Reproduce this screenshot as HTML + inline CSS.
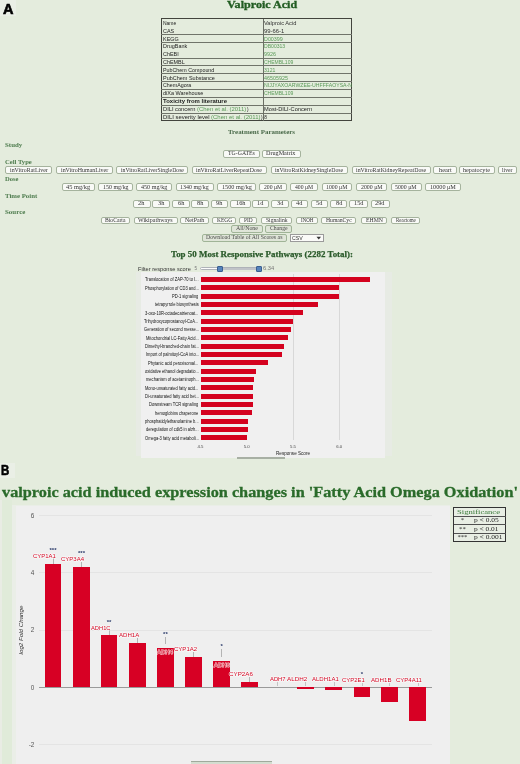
<!DOCTYPE html>
<html><head><meta charset="utf-8"><style>
html,body{margin:0;padding:0}
body{width:520px;height:764px;overflow:hidden;position:relative;background:#e4ecdd;font-family:'Liberation Sans', sans-serif}
.t{position:absolute;white-space:nowrap;transform-origin:0 0}
</style></head><body>
<div style="position:absolute;left:0.00px;top:0.00px;width:15.50px;height:16.00px;background:#eaefe6"></div>
<div style="position:absolute;left:0.00px;top:463.30px;width:15.00px;height:14.70px;background:#eaefe6"></div>
<div style="position:absolute;left:160.70px;top:17.80px;width:191.60px;height:103.70px;border:1.8px solid #42443d;box-sizing:border-box"></div>
<div style="position:absolute;left:161.00px;top:33.90px;width:191.00px;height:1.20px;background:#70746a"></div>
<div style="position:absolute;left:161.00px;top:41.70px;width:191.00px;height:1.20px;background:#70746a"></div>
<div style="position:absolute;left:161.00px;top:57.50px;width:191.00px;height:1.20px;background:#70746a"></div>
<div style="position:absolute;left:161.00px;top:65.10px;width:191.00px;height:1.20px;background:#70746a"></div>
<div style="position:absolute;left:161.00px;top:73.10px;width:191.00px;height:1.20px;background:#70746a"></div>
<div style="position:absolute;left:161.00px;top:80.60px;width:191.00px;height:1.20px;background:#70746a"></div>
<div style="position:absolute;left:161.00px;top:88.80px;width:191.00px;height:1.20px;background:#70746a"></div>
<div style="position:absolute;left:161.00px;top:96.70px;width:191.00px;height:1.20px;background:#70746a"></div>
<div style="position:absolute;left:161.00px;top:104.70px;width:191.00px;height:1.20px;background:#70746a"></div>
<div style="position:absolute;left:161.00px;top:112.60px;width:191.00px;height:1.20px;background:#70746a"></div>
<div style="position:absolute;left:262.90px;top:18.50px;width:1.40px;height:102.30px;background:#6a6e64"></div>
<div style="position:absolute;left:223.30px;top:149.70px;width:36.30px;height:7.90px;background:#f9faf7;border:1px solid #a5b39d;border-radius:2px;box-sizing:border-box"></div>
<div style="position:absolute;left:261.70px;top:149.70px;width:38.90px;height:7.90px;background:#f9faf7;border:1px solid #a5b39d;border-radius:2px;box-sizing:border-box"></div>
<div style="position:absolute;left:5.20px;top:165.90px;width:47.30px;height:8.50px;background:#f9faf7;border:1px solid #a5b39d;border-radius:2px;box-sizing:border-box"></div>
<div style="position:absolute;left:56.30px;top:165.90px;width:56.70px;height:8.50px;background:#f9faf7;border:1px solid #a5b39d;border-radius:2px;box-sizing:border-box"></div>
<div style="position:absolute;left:116.00px;top:165.90px;width:72.40px;height:8.50px;background:#f9faf7;border:1px solid #a5b39d;border-radius:2px;box-sizing:border-box"></div>
<div style="position:absolute;left:191.70px;top:165.90px;width:75.30px;height:8.50px;background:#f9faf7;border:1px solid #a5b39d;border-radius:2px;box-sizing:border-box"></div>
<div style="position:absolute;left:270.50px;top:165.90px;width:77.70px;height:8.50px;background:#f9faf7;border:1px solid #a5b39d;border-radius:2px;box-sizing:border-box"></div>
<div style="position:absolute;left:351.50px;top:165.90px;width:79.70px;height:8.50px;background:#f9faf7;border:1px solid #a5b39d;border-radius:2px;box-sizing:border-box"></div>
<div style="position:absolute;left:433.30px;top:165.90px;width:23.50px;height:8.50px;background:#f9faf7;border:1px solid #a5b39d;border-radius:2px;box-sizing:border-box"></div>
<div style="position:absolute;left:458.50px;top:165.90px;width:36.40px;height:8.50px;background:#f9faf7;border:1px solid #a5b39d;border-radius:2px;box-sizing:border-box"></div>
<div style="position:absolute;left:497.50px;top:165.90px;width:19.90px;height:8.50px;background:#f9faf7;border:1px solid #a5b39d;border-radius:2px;box-sizing:border-box"></div>
<div style="position:absolute;left:61.70px;top:183.20px;width:33.70px;height:7.90px;background:#f9faf7;border:1px solid #a5b39d;border-radius:2px;box-sizing:border-box"></div>
<div style="position:absolute;left:98.10px;top:183.20px;width:35.10px;height:7.90px;background:#f9faf7;border:1px solid #a5b39d;border-radius:2px;box-sizing:border-box"></div>
<div style="position:absolute;left:136.40px;top:183.20px;width:35.80px;height:7.90px;background:#f9faf7;border:1px solid #a5b39d;border-radius:2px;box-sizing:border-box"></div>
<div style="position:absolute;left:175.50px;top:183.20px;width:38.20px;height:7.90px;background:#f9faf7;border:1px solid #a5b39d;border-radius:2px;box-sizing:border-box"></div>
<div style="position:absolute;left:216.80px;top:183.20px;width:39.40px;height:7.90px;background:#f9faf7;border:1px solid #a5b39d;border-radius:2px;box-sizing:border-box"></div>
<div style="position:absolute;left:259.20px;top:183.20px;width:27.60px;height:7.90px;background:#f9faf7;border:1px solid #a5b39d;border-radius:2px;box-sizing:border-box"></div>
<div style="position:absolute;left:290.00px;top:183.20px;width:27.60px;height:7.90px;background:#f9faf7;border:1px solid #a5b39d;border-radius:2px;box-sizing:border-box"></div>
<div style="position:absolute;left:321.70px;top:183.20px;width:30.80px;height:7.90px;background:#f9faf7;border:1px solid #a5b39d;border-radius:2px;box-sizing:border-box"></div>
<div style="position:absolute;left:356.00px;top:183.20px;width:31.00px;height:7.90px;background:#f9faf7;border:1px solid #a5b39d;border-radius:2px;box-sizing:border-box"></div>
<div style="position:absolute;left:390.60px;top:183.20px;width:31.00px;height:7.90px;background:#f9faf7;border:1px solid #a5b39d;border-radius:2px;box-sizing:border-box"></div>
<div style="position:absolute;left:425.40px;top:183.20px;width:35.40px;height:7.90px;background:#f9faf7;border:1px solid #a5b39d;border-radius:2px;box-sizing:border-box"></div>
<div style="position:absolute;left:132.50px;top:199.90px;width:18.00px;height:7.80px;background:#f9faf7;border:1px solid #a5b39d;border-radius:2px;box-sizing:border-box"></div>
<div style="position:absolute;left:152.00px;top:199.90px;width:18.00px;height:7.80px;background:#f9faf7;border:1px solid #a5b39d;border-radius:2px;box-sizing:border-box"></div>
<div style="position:absolute;left:171.80px;top:199.90px;width:17.80px;height:7.80px;background:#f9faf7;border:1px solid #a5b39d;border-radius:2px;box-sizing:border-box"></div>
<div style="position:absolute;left:191.30px;top:199.90px;width:17.50px;height:7.80px;background:#f9faf7;border:1px solid #a5b39d;border-radius:2px;box-sizing:border-box"></div>
<div style="position:absolute;left:210.80px;top:199.90px;width:17.50px;height:7.80px;background:#f9faf7;border:1px solid #a5b39d;border-radius:2px;box-sizing:border-box"></div>
<div style="position:absolute;left:230.00px;top:199.90px;width:21.30px;height:7.80px;background:#f9faf7;border:1px solid #a5b39d;border-radius:2px;box-sizing:border-box"></div>
<div style="position:absolute;left:251.70px;top:199.90px;width:17.60px;height:7.80px;background:#f9faf7;border:1px solid #a5b39d;border-radius:2px;box-sizing:border-box"></div>
<div style="position:absolute;left:271.40px;top:199.90px;width:17.50px;height:7.80px;background:#f9faf7;border:1px solid #a5b39d;border-radius:2px;box-sizing:border-box"></div>
<div style="position:absolute;left:290.80px;top:199.90px;width:17.50px;height:7.80px;background:#f9faf7;border:1px solid #a5b39d;border-radius:2px;box-sizing:border-box"></div>
<div style="position:absolute;left:311.00px;top:199.90px;width:17.00px;height:7.80px;background:#f9faf7;border:1px solid #a5b39d;border-radius:2px;box-sizing:border-box"></div>
<div style="position:absolute;left:330.20px;top:199.90px;width:17.20px;height:7.80px;background:#f9faf7;border:1px solid #a5b39d;border-radius:2px;box-sizing:border-box"></div>
<div style="position:absolute;left:348.80px;top:199.90px;width:19.00px;height:7.80px;background:#f9faf7;border:1px solid #a5b39d;border-radius:2px;box-sizing:border-box"></div>
<div style="position:absolute;left:370.50px;top:199.90px;width:19.50px;height:7.80px;background:#f9faf7;border:1px solid #a5b39d;border-radius:2px;box-sizing:border-box"></div>
<div style="position:absolute;left:100.50px;top:216.50px;width:29.90px;height:7.80px;background:#f9faf7;border:1px solid #a5b39d;border-radius:2px;box-sizing:border-box"></div>
<div style="position:absolute;left:133.50px;top:216.50px;width:44.00px;height:7.80px;background:#f9faf7;border:1px solid #a5b39d;border-radius:2px;box-sizing:border-box"></div>
<div style="position:absolute;left:180.00px;top:216.50px;width:28.80px;height:7.80px;background:#f9faf7;border:1px solid #a5b39d;border-radius:2px;box-sizing:border-box"></div>
<div style="position:absolute;left:211.90px;top:216.50px;width:24.60px;height:7.80px;background:#f9faf7;border:1px solid #a5b39d;border-radius:2px;box-sizing:border-box"></div>
<div style="position:absolute;left:239.30px;top:216.50px;width:18.10px;height:7.80px;background:#f9faf7;border:1px solid #a5b39d;border-radius:2px;box-sizing:border-box"></div>
<div style="position:absolute;left:261.00px;top:216.50px;width:31.00px;height:7.80px;background:#f9faf7;border:1px solid #a5b39d;border-radius:2px;box-sizing:border-box"></div>
<div style="position:absolute;left:295.80px;top:216.50px;width:21.90px;height:7.80px;background:#f9faf7;border:1px solid #a5b39d;border-radius:2px;box-sizing:border-box"></div>
<div style="position:absolute;left:321.30px;top:216.50px;width:35.20px;height:7.80px;background:#f9faf7;border:1px solid #a5b39d;border-radius:2px;box-sizing:border-box"></div>
<div style="position:absolute;left:360.80px;top:216.50px;width:26.50px;height:7.80px;background:#f9faf7;border:1px solid #a5b39d;border-radius:2px;box-sizing:border-box"></div>
<div style="position:absolute;left:390.80px;top:216.50px;width:29.20px;height:7.80px;background:#f9faf7;border:1px solid #a5b39d;border-radius:2px;box-sizing:border-box"></div>
<div style="position:absolute;left:231.30px;top:225.00px;width:31.40px;height:7.80px;background:#dfe5d8;border:1px solid #a0b497;border-radius:2px;box-sizing:border-box"></div>
<div style="position:absolute;left:264.90px;top:225.00px;width:27.10px;height:7.80px;background:#dfe5d8;border:1px solid #a0b497;border-radius:2px;box-sizing:border-box"></div>
<div style="position:absolute;left:201.50px;top:234.20px;width:85.90px;height:7.60px;background:#dfe5d8;border:1px solid #a0b497;border-radius:2px;box-sizing:border-box"></div>
<div style="position:absolute;left:289.80px;top:234.20px;width:33.80px;height:7.80px;background:#fafaf8;border:1px solid #9a9a9a;box-sizing:border-box"></div>
<svg style="position:absolute;left:316px;top:236px" width="6" height="4"><path d="M0.5 0.8 L5 0.8 L2.75 3.5Z" fill="#333"/></svg>
<div style="position:absolute;left:199.50px;top:267.30px;width:61.50px;height:3.20px;background:#fcfcfc;border:0.7px solid #aeb2b8;border-radius:1.5px;box-sizing:border-box"></div>
<div style="position:absolute;left:220.00px;top:267.60px;width:39.00px;height:2.60px;background:#c0c3c8"></div>
<div style="position:absolute;left:217.40px;top:265.80px;width:5.60px;height:5.90px;background:#5583bb;border:0.7px solid #3a5f90;border-radius:1px;box-sizing:border-box"></div>
<div style="position:absolute;left:255.80px;top:265.80px;width:5.80px;height:5.90px;background:#5583bb;border:0.7px solid #3a5f90;border-radius:1px;box-sizing:border-box"></div>
<div style="position:absolute;left:136.00px;top:271.50px;width:256.00px;height:184.50px;background:#e7ebe4"></div>
<div style="position:absolute;left:141.00px;top:271.50px;width:243.50px;height:186.50px;background:#f0f0f0"></div>
<div style="position:absolute;left:292.60px;top:274.00px;width:0.80px;height:166.00px;background:#d8d8d8"></div>
<div style="position:absolute;left:338.85px;top:274.00px;width:0.80px;height:166.00px;background:#d8d8d8"></div>
<div style="position:absolute;left:200.50px;top:277.00px;width:169.50px;height:5.00px;background:#d4021f"></div>
<div style="position:absolute;left:200.50px;top:285.33px;width:138.50px;height:5.00px;background:#d4021f"></div>
<div style="position:absolute;left:200.50px;top:293.66px;width:138.00px;height:5.00px;background:#d4021f"></div>
<div style="position:absolute;left:200.50px;top:301.99px;width:117.50px;height:5.00px;background:#d4021f"></div>
<div style="position:absolute;left:200.50px;top:310.32px;width:102.00px;height:5.00px;background:#d4021f"></div>
<div style="position:absolute;left:200.50px;top:318.65px;width:92.50px;height:5.00px;background:#d4021f"></div>
<div style="position:absolute;left:200.50px;top:326.98px;width:90.70px;height:5.00px;background:#d4021f"></div>
<div style="position:absolute;left:200.50px;top:335.31px;width:87.00px;height:5.00px;background:#d4021f"></div>
<div style="position:absolute;left:200.50px;top:343.64px;width:83.30px;height:5.00px;background:#d4021f"></div>
<div style="position:absolute;left:200.50px;top:351.97px;width:81.50px;height:5.00px;background:#d4021f"></div>
<div style="position:absolute;left:200.50px;top:360.30px;width:67.00px;height:5.00px;background:#d4021f"></div>
<div style="position:absolute;left:200.50px;top:368.63px;width:55.70px;height:5.00px;background:#d4021f"></div>
<div style="position:absolute;left:200.50px;top:376.96px;width:53.30px;height:5.00px;background:#d4021f"></div>
<div style="position:absolute;left:200.50px;top:385.29px;width:52.50px;height:5.00px;background:#d4021f"></div>
<div style="position:absolute;left:200.50px;top:393.62px;width:52.00px;height:5.00px;background:#d4021f"></div>
<div style="position:absolute;left:200.50px;top:401.95px;width:52.00px;height:5.00px;background:#d4021f"></div>
<div style="position:absolute;left:200.50px;top:410.28px;width:51.50px;height:5.00px;background:#d4021f"></div>
<div style="position:absolute;left:200.50px;top:418.61px;width:47.70px;height:5.00px;background:#d4021f"></div>
<div style="position:absolute;left:200.50px;top:426.94px;width:47.00px;height:5.00px;background:#d4021f"></div>
<div style="position:absolute;left:200.50px;top:435.27px;width:46.30px;height:5.00px;background:#d4021f"></div>
<div style="position:absolute;left:237.40px;top:457.20px;width:48.00px;height:1.40px;background:#a8b0a4"></div>
<div style="position:absolute;left:0.00px;top:500.00px;width:1.50px;height:264.00px;background:#e9ece4"></div>
<div style="position:absolute;left:1.50px;top:500.00px;width:10.50px;height:264.00px;background:#e0ebd9"></div>
<div style="position:absolute;left:12.00px;top:504.50px;width:438.20px;height:259.50px;background:#eaeee7"></div>
<div style="position:absolute;left:15.50px;top:505.50px;width:434.70px;height:258.50px;background:#efefef"></div>
<div style="position:absolute;left:38.75px;top:514.90px;width:393.25px;height:1.00px;background:#e4e4e4"></div>
<div style="position:absolute;left:38.75px;top:572.20px;width:393.25px;height:1.00px;background:#e4e4e4"></div>
<div style="position:absolute;left:38.75px;top:629.50px;width:393.25px;height:1.00px;background:#e4e4e4"></div>
<div style="position:absolute;left:38.75px;top:744.10px;width:393.25px;height:1.00px;background:#e4e4e4"></div>
<div style="position:absolute;left:38.75px;top:686.80px;width:393.55px;height:1.20px;background:#9a9a9a"></div>
<div style="position:absolute;left:44.60px;top:564.11px;width:16.80px;height:123.19px;background:#d70024"></div>
<div style="position:absolute;left:52.70px;top:558.30px;width:0.60px;height:5.81px;background:#b4b4b4"></div>
<div style="position:absolute;left:73.10px;top:566.97px;width:16.80px;height:120.33px;background:#d70024"></div>
<div style="position:absolute;left:81.20px;top:561.70px;width:0.60px;height:5.27px;background:#b4b4b4"></div>
<div style="position:absolute;left:100.60px;top:635.44px;width:16.80px;height:51.86px;background:#d70024"></div>
<div style="position:absolute;left:108.70px;top:630.10px;width:0.60px;height:5.34px;background:#b4b4b4"></div>
<div style="position:absolute;left:128.80px;top:642.89px;width:16.80px;height:44.41px;background:#d70024"></div>
<div style="position:absolute;left:136.90px;top:637.90px;width:0.60px;height:4.99px;background:#b4b4b4"></div>
<div style="position:absolute;left:157.00px;top:647.76px;width:16.80px;height:39.54px;background:#d70024"></div>
<div style="position:absolute;left:165.10px;top:636.50px;width:0.60px;height:7.26px;background:#b4b4b4"></div>
<div style="position:absolute;left:185.10px;top:656.93px;width:16.80px;height:30.37px;background:#d70024"></div>
<div style="position:absolute;left:193.20px;top:651.90px;width:0.60px;height:5.03px;background:#b4b4b4"></div>
<div style="position:absolute;left:213.30px;top:660.66px;width:16.80px;height:26.64px;background:#d70024"></div>
<div style="position:absolute;left:221.40px;top:648.50px;width:0.60px;height:8.16px;background:#b4b4b4"></div>
<div style="position:absolute;left:241.20px;top:681.86px;width:16.80px;height:5.44px;background:#d70024"></div>
<div style="position:absolute;left:249.30px;top:676.50px;width:0.60px;height:5.36px;background:#b4b4b4"></div>
<div style="position:absolute;left:277.40px;top:682.40px;width:0.60px;height:4.10px;background:#c4c4c4"></div>
<div style="position:absolute;left:297.20px;top:687.30px;width:16.80px;height:1.43px;background:#d70024"></div>
<div style="position:absolute;left:305.30px;top:682.40px;width:0.60px;height:4.10px;background:#c4c4c4"></div>
<div style="position:absolute;left:325.40px;top:687.30px;width:16.80px;height:3.15px;background:#d70024"></div>
<div style="position:absolute;left:333.50px;top:682.40px;width:0.60px;height:4.10px;background:#c4c4c4"></div>
<div style="position:absolute;left:353.60px;top:687.30px;width:16.80px;height:9.74px;background:#d70024"></div>
<div style="position:absolute;left:361.70px;top:683.30px;width:0.60px;height:3.20px;background:#c4c4c4"></div>
<div style="position:absolute;left:381.30px;top:687.30px;width:16.80px;height:14.61px;background:#d70024"></div>
<div style="position:absolute;left:389.40px;top:683.30px;width:0.60px;height:3.20px;background:#c4c4c4"></div>
<div style="position:absolute;left:409.40px;top:687.30px;width:16.80px;height:34.09px;background:#d70024"></div>
<div style="position:absolute;left:417.50px;top:683.30px;width:0.60px;height:3.20px;background:#c4c4c4"></div>
<div style="position:absolute;left:452.90px;top:506.70px;width:53.20px;height:35.30px;border:1.5px solid #333;box-sizing:border-box;background:#e8eee4"></div>
<div style="position:absolute;left:453.50px;top:515.60px;width:52.00px;height:1.30px;background:#505050"></div>
<div style="position:absolute;left:453.50px;top:524.20px;width:52.00px;height:1.30px;background:#505050"></div>
<div style="position:absolute;left:453.50px;top:532.80px;width:52.00px;height:1.30px;background:#505050"></div>
<div style="position:absolute;left:190.80px;top:761.30px;width:81.70px;height:2.70px;background:#d4ddd0;border-top:1px solid #a0aa9c;box-sizing:border-box"></div>
<div style="position:absolute;left:0;top:0;width:520px;height:764px;will-change:transform">
<div class="t" id="t0" style="left:3.40px;top:1.85px;font-size:14px;line-height:14px;font-family:'Liberation Sans', sans-serif;color:#000;font-weight:bold;transform:scaleX(1.0370);-webkit-text-stroke:0.6px #000">A</div>
<div class="t" id="t1" style="left:226.80px;top:0.20px;font-size:10.5px;line-height:10.5px;font-family:'Liberation Serif', serif;color:#225c22;font-weight:bold;transform:scaleX(1.1511);-webkit-text-stroke:0.3px #225c22">Valproic Acid</div>
<div class="t" id="t2" style="left:162.90px;top:21.90px;font-size:4.7px;line-height:4.7px;font-family:'Liberation Sans', sans-serif;color:#1c1c1c;transform:scaleX(1.0627);">Name</div>
<div class="t" id="t3" style="left:162.90px;top:29.72px;font-size:4.7px;line-height:4.7px;font-family:'Liberation Sans', sans-serif;color:#1c1c1c;transform:scaleX(1.1600);">CAS</div>
<div class="t" id="t4" style="left:162.90px;top:37.54px;font-size:4.7px;line-height:4.7px;font-family:'Liberation Sans', sans-serif;color:#1c1c1c;transform:scaleX(1.1600);">KEGG</div>
<div class="t" id="t5" style="left:162.90px;top:45.36px;font-size:4.7px;line-height:4.7px;font-family:'Liberation Sans', sans-serif;color:#1c1c1c;transform:scaleX(1.1600);">DrugBank</div>
<div class="t" id="t6" style="left:162.90px;top:53.18px;font-size:4.7px;line-height:4.7px;font-family:'Liberation Sans', sans-serif;color:#1c1c1c;transform:scaleX(1.1600);">ChEBI</div>
<div class="t" id="t7" style="left:162.90px;top:61.00px;font-size:4.7px;line-height:4.7px;font-family:'Liberation Sans', sans-serif;color:#1c1c1c;transform:scaleX(1.1600);">ChEMBL</div>
<div class="t" id="t8" style="left:162.90px;top:68.82px;font-size:4.7px;line-height:4.7px;font-family:'Liberation Sans', sans-serif;color:#1c1c1c;transform:scaleX(1.1376);">PubChem Compound</div>
<div class="t" id="t9" style="left:162.90px;top:76.64px;font-size:4.7px;line-height:4.7px;font-family:'Liberation Sans', sans-serif;color:#1c1c1c;transform:scaleX(1.1712);">PubChem Substance</div>
<div class="t" id="t10" style="left:162.90px;top:84.46px;font-size:4.7px;line-height:4.7px;font-family:'Liberation Sans', sans-serif;color:#1c1c1c;transform:scaleX(1.1313);">ChemAgora</div>
<div class="t" id="t11" style="left:162.90px;top:92.28px;font-size:4.7px;line-height:4.7px;font-family:'Liberation Sans', sans-serif;color:#1c1c1c;transform:scaleX(1.1715);">diXa Warehouse</div>
<div class="t" id="t12" style="left:263.90px;top:21.90px;font-size:4.7px;line-height:4.7px;font-family:'Liberation Sans', sans-serif;color:#333;transform:scaleX(1.2075);">Valproic Acid</div>
<div class="t" id="t13" style="left:263.90px;top:29.72px;font-size:4.7px;line-height:4.7px;font-family:'Liberation Sans', sans-serif;color:#333;transform:scaleX(1.2553);">99-66-1</div>
<div class="t" id="t14" style="left:263.90px;top:37.54px;font-size:4.7px;line-height:4.7px;font-family:'Liberation Sans', sans-serif;color:#5a9a58;transform:scaleX(1.1448);">D00399</div>
<div class="t" id="t15" style="left:263.90px;top:45.36px;font-size:4.7px;line-height:4.7px;font-family:'Liberation Sans', sans-serif;color:#5a9a58;transform:scaleX(1.0846);">DB00313</div>
<div class="t" id="t16" style="left:263.90px;top:53.18px;font-size:4.7px;line-height:4.7px;font-family:'Liberation Sans', sans-serif;color:#5a9a58;transform:scaleX(1.1497);">9926</div>
<div class="t" id="t17" style="left:263.90px;top:61.00px;font-size:4.7px;line-height:4.7px;font-family:'Liberation Sans', sans-serif;color:#5a9a58;transform:scaleX(1.0673);">CHEMBL109</div>
<div class="t" id="t18" style="left:263.90px;top:68.82px;font-size:4.7px;line-height:4.7px;font-family:'Liberation Sans', sans-serif;color:#5a9a58;transform:scaleX(1.0922);">3121</div>
<div class="t" id="t19" style="left:263.90px;top:76.64px;font-size:4.7px;line-height:4.7px;font-family:'Liberation Sans', sans-serif;color:#5a9a58;transform:scaleX(1.1506);">46505925</div>
<div class="t" id="t20" style="left:263.90px;top:84.46px;font-size:4.7px;line-height:4.7px;font-family:'Liberation Sans', sans-serif;color:#5a9a58;transform:scaleX(1.1030);">NIJJYAXOARWZEE-UHFFFAOYSA-N</div>
<div class="t" id="t21" style="left:263.90px;top:92.28px;font-size:4.7px;line-height:4.7px;font-family:'Liberation Sans', sans-serif;color:#5a9a58;transform:scaleX(1.0673);">CHEMBL109</div>
<div class="t" id="t22" style="left:162.90px;top:100.10px;font-size:4.7px;line-height:4.7px;font-family:'Liberation Sans', sans-serif;color:#222;font-weight:bold;transform:scaleX(1.2685);">Toxicity from literature</div>
<div class="t" id="t23" style="left:162.90px;top:107.92px;font-size:4.7px;line-height:4.7px;font-family:'Liberation Sans', sans-serif;color:#1c1c1c;transform:scaleX(1.2190);">DILI concern</div>
<div class="t" id="t24" style="left:197.30px;top:107.92px;font-size:4.7px;line-height:4.7px;font-family:'Liberation Sans', sans-serif;color:#5a9a58;transform:scaleX(1.2723);">(Chen et al. (2011)</div>
<div class="t" id="t25" style="left:246.90px;top:107.92px;font-size:4.7px;line-height:4.7px;font-family:'Liberation Sans', sans-serif;color:#1c1c1c;">)</div>
<div class="t" id="t26" style="left:162.90px;top:115.74px;font-size:4.7px;line-height:4.7px;font-family:'Liberation Sans', sans-serif;color:#1c1c1c;transform:scaleX(1.2595);">DILI severity level</div>
<div class="t" id="t27" style="left:211.20px;top:115.74px;font-size:4.7px;line-height:4.7px;font-family:'Liberation Sans', sans-serif;color:#5a9a58;transform:scaleX(1.2800);">(Chen et al. (2011)</div>
<div class="t" id="t28" style="left:261.00px;top:115.74px;font-size:4.7px;line-height:4.7px;font-family:'Liberation Sans', sans-serif;color:#1c1c1c;">)</div>
<div class="t" id="t29" style="left:263.90px;top:107.92px;font-size:4.7px;line-height:4.7px;font-family:'Liberation Sans', sans-serif;color:#1c1c1c;transform:scaleX(1.2144);">Most-DILI-Concern</div>
<div class="t" id="t30" style="left:264.20px;top:115.74px;font-size:4.7px;line-height:4.7px;font-family:'Liberation Sans', sans-serif;color:#1c1c1c;">8</div>
<div class="t" id="t31" style="left:228.00px;top:128.60px;font-size:6.6px;line-height:6.6px;font-family:'Liberation Serif', serif;color:#4a6a4a;font-weight:bold;transform:scaleX(1.0525);">Treatment Parameters</div>
<div class="t" id="t32" style="left:4.80px;top:142.30px;font-size:6.3px;line-height:6.3px;font-family:'Liberation Serif', serif;color:#4e7c4e;font-weight:bold;transform:scaleX(1.0973);">Study</div>
<div class="t" id="t33" style="left:4.80px;top:158.70px;font-size:6.3px;line-height:6.3px;font-family:'Liberation Serif', serif;color:#4e7c4e;font-weight:bold;transform:scaleX(1.0516);">Cell Type</div>
<div class="t" id="t34" style="left:4.80px;top:175.50px;font-size:6.3px;line-height:6.3px;font-family:'Liberation Serif', serif;color:#4e7c4e;font-weight:bold;transform:scaleX(1.0422);">Dose</div>
<div class="t" id="t35" style="left:4.80px;top:192.90px;font-size:6.3px;line-height:6.3px;font-family:'Liberation Serif', serif;color:#4e7c4e;font-weight:bold;transform:scaleX(1.0807);">Time Point</div>
<div class="t" id="t36" style="left:4.80px;top:209.20px;font-size:6.3px;line-height:6.3px;font-family:'Liberation Serif', serif;color:#4e7c4e;font-weight:bold;transform:scaleX(1.1064);">Source</div>
<div class="t" id="t37" style="left:228.05px;top:151.20px;font-size:5.9px;line-height:5.9px;font-family:'Liberation Serif', serif;color:#333;transform:scaleX(0.9863);">TG-GATEs</div>
<div class="t" id="t38" style="left:266.45px;top:151.20px;font-size:5.9px;line-height:5.9px;font-family:'Liberation Serif', serif;color:#333;transform:scaleX(1.0448);">DrugMatrix</div>
<div class="t" id="t39" style="left:9.95px;top:168.00px;font-size:5.9px;line-height:5.9px;font-family:'Liberation Serif', serif;color:#333;transform:scaleX(1.0051);">inVitroRatLiver</div>
<div class="t" id="t40" style="left:61.05px;top:168.00px;font-size:5.9px;line-height:5.9px;font-family:'Liberation Serif', serif;color:#333;transform:scaleX(1.0093);">inVitroHumanLiver</div>
<div class="t" id="t41" style="left:120.75px;top:168.00px;font-size:5.9px;line-height:5.9px;font-family:'Liberation Serif', serif;color:#333;transform:scaleX(0.9712);">inVitroRatLiverSingleDose</div>
<div class="t" id="t42" style="left:196.45px;top:168.00px;font-size:5.9px;line-height:5.9px;font-family:'Liberation Serif', serif;color:#333;transform:scaleX(0.9960);">inVitroRatLiverRepeatDose</div>
<div class="t" id="t43" style="left:275.25px;top:168.00px;font-size:5.9px;line-height:5.9px;font-family:'Liberation Serif', serif;color:#333;transform:scaleX(0.9833);">inVitroRatKidneySingleDose</div>
<div class="t" id="t44" style="left:356.25px;top:168.00px;font-size:5.9px;line-height:5.9px;font-family:'Liberation Serif', serif;color:#333;transform:scaleX(0.9935);">inVitroRatKidneyRepeatDose</div>
<div class="t" id="t45" style="left:438.69px;top:168.00px;font-size:5.9px;line-height:5.9px;font-family:'Liberation Serif', serif;color:#333;transform:scaleX(1.0800);">heart</div>
<div class="t" id="t46" style="left:463.25px;top:168.00px;font-size:5.9px;line-height:5.9px;font-family:'Liberation Serif', serif;color:#333;transform:scaleX(1.0543);">hepatocyte</div>
<div class="t" id="t47" style="left:502.25px;top:168.00px;font-size:5.9px;line-height:5.9px;font-family:'Liberation Serif', serif;color:#333;transform:scaleX(0.9632);">liver</div>
<div class="t" id="t48" style="left:66.45px;top:184.70px;font-size:5.9px;line-height:5.9px;font-family:'Liberation Serif', serif;color:#333;transform:scaleX(1.0793);">45 mg/kg</div>
<div class="t" id="t49" style="left:102.85px;top:184.70px;font-size:5.9px;line-height:5.9px;font-family:'Liberation Serif', serif;color:#333;transform:scaleX(1.0089);">150 mg/kg</div>
<div class="t" id="t50" style="left:141.15px;top:184.70px;font-size:5.9px;line-height:5.9px;font-family:'Liberation Serif', serif;color:#333;transform:scaleX(1.0365);">450 mg/kg</div>
<div class="t" id="t51" style="left:180.25px;top:184.70px;font-size:5.9px;line-height:5.9px;font-family:'Liberation Serif', serif;color:#333;transform:scaleX(1.0137);">1340 mg/kg</div>
<div class="t" id="t52" style="left:221.55px;top:184.70px;font-size:5.9px;line-height:5.9px;font-family:'Liberation Serif', serif;color:#333;transform:scaleX(1.0561);">1500 mg/kg</div>
<div class="t" id="t53" style="left:263.95px;top:184.70px;font-size:5.9px;line-height:5.9px;font-family:'Liberation Serif', serif;color:#333;transform:scaleX(0.9669);">200 μM</div>
<div class="t" id="t54" style="left:294.75px;top:184.70px;font-size:5.9px;line-height:5.9px;font-family:'Liberation Serif', serif;color:#333;transform:scaleX(0.9669);">400 μM</div>
<div class="t" id="t55" style="left:326.45px;top:184.70px;font-size:5.9px;line-height:5.9px;font-family:'Liberation Serif', serif;color:#333;transform:scaleX(0.9835);">1000 μM</div>
<div class="t" id="t56" style="left:360.75px;top:184.70px;font-size:5.9px;line-height:5.9px;font-family:'Liberation Serif', serif;color:#333;transform:scaleX(0.9928);">2000 μM</div>
<div class="t" id="t57" style="left:395.35px;top:184.70px;font-size:5.9px;line-height:5.9px;font-family:'Liberation Serif', serif;color:#333;transform:scaleX(0.9928);">5000 μM</div>
<div class="t" id="t58" style="left:430.15px;top:184.70px;font-size:5.9px;line-height:5.9px;font-family:'Liberation Serif', serif;color:#333;transform:scaleX(1.0524);">10000 μM</div>
<div class="t" id="t59" style="left:138.32px;top:201.30px;font-size:5.9px;line-height:5.9px;font-family:'Liberation Serif', serif;color:#333;transform:scaleX(1.0800);">2h</div>
<div class="t" id="t60" style="left:157.82px;top:201.30px;font-size:5.9px;line-height:5.9px;font-family:'Liberation Serif', serif;color:#333;transform:scaleX(1.0800);">3h</div>
<div class="t" id="t61" style="left:177.52px;top:201.30px;font-size:5.9px;line-height:5.9px;font-family:'Liberation Serif', serif;color:#333;transform:scaleX(1.0800);">6h</div>
<div class="t" id="t62" style="left:196.87px;top:201.30px;font-size:5.9px;line-height:5.9px;font-family:'Liberation Serif', serif;color:#333;transform:scaleX(1.0800);">8h</div>
<div class="t" id="t63" style="left:216.37px;top:201.30px;font-size:5.9px;line-height:5.9px;font-family:'Liberation Serif', serif;color:#333;transform:scaleX(1.0800);">9h</div>
<div class="t" id="t64" style="left:235.87px;top:201.30px;font-size:5.9px;line-height:5.9px;font-family:'Liberation Serif', serif;color:#333;transform:scaleX(1.0800);">16h</div>
<div class="t" id="t65" style="left:257.32px;top:201.30px;font-size:5.9px;line-height:5.9px;font-family:'Liberation Serif', serif;color:#333;transform:scaleX(1.0800);">1d</div>
<div class="t" id="t66" style="left:276.97px;top:201.30px;font-size:5.9px;line-height:5.9px;font-family:'Liberation Serif', serif;color:#333;transform:scaleX(1.0800);">3d</div>
<div class="t" id="t67" style="left:296.37px;top:201.30px;font-size:5.9px;line-height:5.9px;font-family:'Liberation Serif', serif;color:#333;transform:scaleX(1.0800);">4d</div>
<div class="t" id="t68" style="left:316.32px;top:201.30px;font-size:5.9px;line-height:5.9px;font-family:'Liberation Serif', serif;color:#333;transform:scaleX(1.0800);">5d</div>
<div class="t" id="t69" style="left:335.62px;top:201.30px;font-size:5.9px;line-height:5.9px;font-family:'Liberation Serif', serif;color:#333;transform:scaleX(1.0800);">8d</div>
<div class="t" id="t70" style="left:353.55px;top:201.30px;font-size:5.9px;line-height:5.9px;font-family:'Liberation Serif', serif;color:#333;transform:scaleX(1.0742);">15d</div>
<div class="t" id="t71" style="left:375.47px;top:201.30px;font-size:5.9px;line-height:5.9px;font-family:'Liberation Serif', serif;color:#333;transform:scaleX(1.0800);">29d</div>
<div class="t" id="t72" style="left:105.25px;top:217.90px;font-size:5.9px;line-height:5.9px;font-family:'Liberation Serif', serif;color:#333;transform:scaleX(0.9586);">BioCarta</div>
<div class="t" id="t73" style="left:138.25px;top:217.90px;font-size:5.9px;line-height:5.9px;font-family:'Liberation Serif', serif;color:#333;transform:scaleX(1.0208);">Wikipathways</div>
<div class="t" id="t74" style="left:184.75px;top:217.90px;font-size:5.9px;line-height:5.9px;font-family:'Liberation Serif', serif;color:#333;transform:scaleX(1.0166);">NetPath</div>
<div class="t" id="t75" style="left:216.65px;top:217.90px;font-size:5.9px;line-height:5.9px;font-family:'Liberation Serif', serif;color:#333;transform:scaleX(0.9221);">KEGG</div>
<div class="t" id="t76" style="left:244.05px;top:217.90px;font-size:5.9px;line-height:5.9px;font-family:'Liberation Serif', serif;color:#333;transform:scaleX(0.9053);">PID</div>
<div class="t" id="t77" style="left:265.75px;top:217.90px;font-size:5.9px;line-height:5.9px;font-family:'Liberation Serif', serif;color:#333;transform:scaleX(0.9516);">Signalink</div>
<div class="t" id="t78" style="left:300.55px;top:217.90px;font-size:5.9px;line-height:5.9px;font-family:'Liberation Serif', serif;color:#333;transform:scaleX(0.8416);">INOH</div>
<div class="t" id="t79" style="left:326.05px;top:217.90px;font-size:5.9px;line-height:5.9px;font-family:'Liberation Serif', serif;color:#333;transform:scaleX(0.9574);">HumanCyc</div>
<div class="t" id="t80" style="left:365.55px;top:217.90px;font-size:5.9px;line-height:5.9px;font-family:'Liberation Serif', serif;color:#333;transform:scaleX(0.9793);">EHMN</div>
<div class="t" id="t81" style="left:395.55px;top:217.90px;font-size:5.9px;line-height:5.9px;font-family:'Liberation Serif', serif;color:#333;transform:scaleX(0.8361);">Reactome</div>
<div class="t" id="t82" style="left:236.05px;top:226.40px;font-size:5.9px;line-height:5.9px;font-family:'Liberation Serif', serif;color:#4a4a4a;transform:scaleX(0.9983);">All/None</div>
<div class="t" id="t83" style="left:269.65px;top:226.40px;font-size:5.9px;line-height:5.9px;font-family:'Liberation Serif', serif;color:#4a4a4a;transform:scaleX(0.9778);">Change</div>
<div class="t" id="t84" style="left:206.25px;top:235.40px;font-size:5.9px;line-height:5.9px;font-family:'Liberation Serif', serif;color:#4a4a4a;transform:scaleX(0.9856);">Download Table of All Scores as</div>
<div class="t" id="t85" style="left:292.00px;top:236.20px;font-size:5.2px;line-height:5.2px;font-family:'Liberation Sans', sans-serif;color:#333;">CSV</div>
<div class="t" id="t86" style="left:171.20px;top:250.00px;font-size:8.9px;line-height:8.9px;font-family:'Liberation Serif', serif;color:#2a5a2a;font-weight:bold;transform:scaleX(1.0075);-webkit-text-stroke:0.25px #2a5a2a">Top 50 Most Responsive Pathways (2282 Total):</div>
<div class="t" id="t87" style="left:138.00px;top:266.60px;font-size:5.0px;line-height:5.0px;font-family:'Liberation Sans', sans-serif;color:#333;transform:scaleX(1.1309);">Filter response score</div>
<div class="t" id="t88" style="left:194.60px;top:267.30px;font-size:4.6px;line-height:4.6px;font-family:'Liberation Sans', sans-serif;color:#777;">5</div>
<div class="t" id="t89" style="left:263.00px;top:267.30px;font-size:4.6px;line-height:4.6px;font-family:'Liberation Sans', sans-serif;color:#777;transform:scaleX(1.2510);">6.34</div>
<div class="t" id="t90" style="left:145.04px;top:278.40px;font-size:4.6px;line-height:4.6px;font-family:'Liberation Sans', sans-serif;color:#111;transform:scaleX(0.8800);">Translocation of ZAP-70 to I...</div>
<div class="t" id="t91" style="left:144.66px;top:286.73px;font-size:4.6px;line-height:4.6px;font-family:'Liberation Sans', sans-serif;color:#111;transform:scaleX(0.8800);">Phosphorylation of CD3 and...</div>
<div class="t" id="t92" style="left:172.30px;top:295.06px;font-size:4.6px;line-height:4.6px;font-family:'Liberation Sans', sans-serif;color:#111;transform:scaleX(0.8800);">PD-1 signaling</div>
<div class="t" id="t93" style="left:154.78px;top:303.39px;font-size:4.6px;line-height:4.6px;font-family:'Liberation Sans', sans-serif;color:#111;transform:scaleX(0.8800);">tetrapyrrole biosynthesis</div>
<div class="t" id="t94" style="left:145.11px;top:311.72px;font-size:4.6px;line-height:4.6px;font-family:'Liberation Sans', sans-serif;color:#111;transform:scaleX(0.8800);">3-oxo-10R-octadecatrienoat...</div>
<div class="t" id="t95" style="left:144.37px;top:320.05px;font-size:4.6px;line-height:4.6px;font-family:'Liberation Sans', sans-serif;color:#111;transform:scaleX(0.8800);">Trihydroxycoprostanoyl-CoA...</div>
<div class="t" id="t96" style="left:143.54px;top:328.38px;font-size:4.6px;line-height:4.6px;font-family:'Liberation Sans', sans-serif;color:#111;transform:scaleX(0.8800);">Generation of second messe...</div>
<div class="t" id="t97" style="left:145.80px;top:336.71px;font-size:4.6px;line-height:4.6px;font-family:'Liberation Sans', sans-serif;color:#111;transform:scaleX(0.8800);">Mitochondrial LC-Fatty Acid...</div>
<div class="t" id="t98" style="left:144.67px;top:345.04px;font-size:4.6px;line-height:4.6px;font-family:'Liberation Sans', sans-serif;color:#111;transform:scaleX(0.8800);">Dimethyl-branched-chain fat...</div>
<div class="t" id="t99" style="left:145.57px;top:353.37px;font-size:4.6px;line-height:4.6px;font-family:'Liberation Sans', sans-serif;color:#111;transform:scaleX(0.8800);">Import of palmitoyl-CoA into...</div>
<div class="t" id="t100" style="left:148.26px;top:361.70px;font-size:4.6px;line-height:4.6px;font-family:'Liberation Sans', sans-serif;color:#111;transform:scaleX(0.8800);">Phytanic acid peroxisomal...</div>
<div class="t" id="t101" style="left:144.66px;top:370.03px;font-size:4.6px;line-height:4.6px;font-family:'Liberation Sans', sans-serif;color:#111;transform:scaleX(0.8800);">oxidative ethanol degradatio...</div>
<div class="t" id="t102" style="left:145.79px;top:378.36px;font-size:4.6px;line-height:4.6px;font-family:'Liberation Sans', sans-serif;color:#111;transform:scaleX(0.8800);">mechanism of acetaminoph...</div>
<div class="t" id="t103" style="left:145.11px;top:386.69px;font-size:4.6px;line-height:4.6px;font-family:'Liberation Sans', sans-serif;color:#111;transform:scaleX(0.8800);">Mono-unsaturated fatty acid...</div>
<div class="t" id="t104" style="left:144.66px;top:395.02px;font-size:4.6px;line-height:4.6px;font-family:'Liberation Sans', sans-serif;color:#111;transform:scaleX(0.8800);">Di-unsaturated fatty acid bet...</div>
<div class="t" id="t105" style="left:149.47px;top:403.35px;font-size:4.6px;line-height:4.6px;font-family:'Liberation Sans', sans-serif;color:#111;transform:scaleX(0.8800);">Downstream TCR signaling</div>
<div class="t" id="t106" style="left:155.44px;top:411.68px;font-size:4.6px;line-height:4.6px;font-family:'Liberation Sans', sans-serif;color:#111;transform:scaleX(0.8800);">hemoglobins chaperone</div>
<div class="t" id="t107" style="left:144.88px;top:420.01px;font-size:4.6px;line-height:4.6px;font-family:'Liberation Sans', sans-serif;color:#111;transform:scaleX(0.8800);">phosphatidylethanolamine b...</div>
<div class="t" id="t108" style="left:146.01px;top:428.34px;font-size:4.6px;line-height:4.6px;font-family:'Liberation Sans', sans-serif;color:#111;transform:scaleX(0.8800);">deregulation of cdk5 in alzh...</div>
<div class="t" id="t109" style="left:144.67px;top:436.67px;font-size:4.6px;line-height:4.6px;font-family:'Liberation Sans', sans-serif;color:#111;transform:scaleX(0.8800);">Omega-3 fatty acid metaboli...</div>
<div class="t" id="t110" style="left:197.51px;top:444.50px;font-size:4.3px;line-height:4.3px;font-family:'Liberation Sans', sans-serif;color:#444;">4.5</div>
<div class="t" id="t111" style="left:243.76px;top:444.50px;font-size:4.3px;line-height:4.3px;font-family:'Liberation Sans', sans-serif;color:#444;">5.0</div>
<div class="t" id="t112" style="left:290.01px;top:444.50px;font-size:4.3px;line-height:4.3px;font-family:'Liberation Sans', sans-serif;color:#444;">5.5</div>
<div class="t" id="t113" style="left:336.26px;top:444.50px;font-size:4.3px;line-height:4.3px;font-family:'Liberation Sans', sans-serif;color:#444;">6.0</div>
<div class="t" id="t114" style="left:276.02px;top:451.80px;font-size:4.6px;line-height:4.6px;font-family:'Liberation Sans', sans-serif;color:#222;">Response Score</div>
<div class="t" id="t115" style="left:0.80px;top:462.60px;font-size:14px;line-height:14px;font-family:'Liberation Sans', sans-serif;color:#000;font-weight:bold;transform:scaleX(0.8198);-webkit-text-stroke:0.6px #000">B</div>
<div class="t" id="t116" style="left:1.70px;top:484.50px;font-size:15px;line-height:15px;font-family:'Liberation Serif', serif;color:#2a6b2a;font-weight:bold;transform:scaleX(1.0846);-webkit-text-stroke:0.3px #2a6b2a">valproic acid induced expression changes in 'Fatty Acid Omega Oxidation'</div>
<div class="t" id="t117" style="left:30.84px;top:512.70px;font-size:6.4px;line-height:6.4px;font-family:'Liberation Sans', sans-serif;color:#555;">6</div>
<div class="t" id="t118" style="left:30.84px;top:570.00px;font-size:6.4px;line-height:6.4px;font-family:'Liberation Sans', sans-serif;color:#555;">4</div>
<div class="t" id="t119" style="left:30.84px;top:627.30px;font-size:6.4px;line-height:6.4px;font-family:'Liberation Sans', sans-serif;color:#555;">2</div>
<div class="t" id="t120" style="left:28.71px;top:741.90px;font-size:6.4px;line-height:6.4px;font-family:'Liberation Sans', sans-serif;color:#555;">-2</div>
<div class="t" id="t121" style="left:30.84px;top:684.60px;font-size:6.4px;line-height:6.4px;font-family:'Liberation Sans', sans-serif;color:#555;">0</div>
<div class="t" id="t122" style="left:32.70px;top:552.80px;font-size:6.2px;line-height:6.2px;font-family:'Liberation Sans', sans-serif;color:#fff;transform:scaleX(0.9606);-webkit-text-stroke:1.1px rgba(255,255,255,0.8)">CYP1A1</div>
<div class="t" id="t123" style="left:32.70px;top:552.80px;font-size:6.2px;line-height:6.2px;font-family:'Liberation Sans', sans-serif;color:#d0021f;transform:scaleX(0.9606);">CYP1A1</div>
<div class="t" id="t124" style="left:49.49px;top:546.70px;font-size:6px;line-height:6px;font-family:'Liberation Sans', sans-serif;color:#2a3a6a;font-weight:bold;">***</div>
<div class="t" id="t125" style="left:61.20px;top:556.20px;font-size:6.2px;line-height:6.2px;font-family:'Liberation Sans', sans-serif;color:#fff;transform:scaleX(0.9691);-webkit-text-stroke:1.1px rgba(255,255,255,0.8)">CYP3A4</div>
<div class="t" id="t126" style="left:61.20px;top:556.20px;font-size:6.2px;line-height:6.2px;font-family:'Liberation Sans', sans-serif;color:#d0021f;transform:scaleX(0.9691);">CYP3A4</div>
<div class="t" id="t127" style="left:77.99px;top:549.70px;font-size:6px;line-height:6px;font-family:'Liberation Sans', sans-serif;color:#2a3a6a;font-weight:bold;">***</div>
<div class="t" id="t128" style="left:90.90px;top:624.60px;font-size:6.2px;line-height:6.2px;font-family:'Liberation Sans', sans-serif;color:#fff;transform:scaleX(0.9293);-webkit-text-stroke:1.1px rgba(255,255,255,0.8)">ADH1C</div>
<div class="t" id="t129" style="left:90.90px;top:624.60px;font-size:6.2px;line-height:6.2px;font-family:'Liberation Sans', sans-serif;color:#d0021f;transform:scaleX(0.9293);">ADH1C</div>
<div class="t" id="t130" style="left:106.66px;top:619.20px;font-size:6px;line-height:6px;font-family:'Liberation Sans', sans-serif;color:#2a3a6a;font-weight:bold;">**</div>
<div class="t" id="t131" style="left:118.50px;top:632.40px;font-size:6.2px;line-height:6.2px;font-family:'Liberation Sans', sans-serif;color:#fff;transform:scaleX(0.9835);-webkit-text-stroke:1.1px rgba(255,255,255,0.8)">ADH1A</div>
<div class="t" id="t132" style="left:118.50px;top:632.40px;font-size:6.2px;line-height:6.2px;font-family:'Liberation Sans', sans-serif;color:#d0021f;transform:scaleX(0.9835);">ADH1A</div>
<div class="t" id="t133" style="left:157.10px;top:649.20px;font-size:6.2px;line-height:6.2px;font-family:'Liberation Sans', sans-serif;color:#fff;transform:scaleX(0.9627);-webkit-text-stroke:1.1px rgba(255,255,255,0.8)">ADH4</div>
<div class="t" id="t134" style="left:157.10px;top:649.20px;font-size:6.2px;line-height:6.2px;font-family:'Liberation Sans', sans-serif;color:#d0021f;transform:scaleX(0.9627);">ADH4</div>
<div class="t" id="t135" style="left:163.06px;top:631.20px;font-size:6px;line-height:6px;font-family:'Liberation Sans', sans-serif;color:#2a3a6a;font-weight:bold;">**</div>
<div class="t" id="t136" style="left:173.80px;top:646.40px;font-size:6.2px;line-height:6.2px;font-family:'Liberation Sans', sans-serif;color:#fff;transform:scaleX(0.9733);-webkit-text-stroke:1.1px rgba(255,255,255,0.8)">CYP1A2</div>
<div class="t" id="t137" style="left:173.80px;top:646.40px;font-size:6.2px;line-height:6.2px;font-family:'Liberation Sans', sans-serif;color:#d0021f;transform:scaleX(0.9733);">CYP1A2</div>
<div class="t" id="t138" style="left:213.80px;top:662.20px;font-size:6.2px;line-height:6.2px;font-family:'Liberation Sans', sans-serif;color:#fff;transform:scaleX(0.9567);-webkit-text-stroke:1.1px rgba(255,255,255,0.8)">ADH6</div>
<div class="t" id="t139" style="left:213.80px;top:662.20px;font-size:6.2px;line-height:6.2px;font-family:'Liberation Sans', sans-serif;color:#d0021f;transform:scaleX(0.9567);">ADH6</div>
<div class="t" id="t140" style="left:220.53px;top:643.20px;font-size:6px;line-height:6px;font-family:'Liberation Sans', sans-serif;color:#2a3a6a;font-weight:bold;">*</div>
<div class="t" id="t141" style="left:228.70px;top:671.00px;font-size:6.2px;line-height:6.2px;font-family:'Liberation Sans', sans-serif;color:#fff;transform:scaleX(1.0112);-webkit-text-stroke:1.1px rgba(255,255,255,0.8)">CYP2A6</div>
<div class="t" id="t142" style="left:228.70px;top:671.00px;font-size:6.2px;line-height:6.2px;font-family:'Liberation Sans', sans-serif;color:#d0021f;transform:scaleX(1.0112);">CYP2A6</div>
<div class="t" id="t143" style="left:269.50px;top:675.60px;font-size:6.2px;line-height:6.2px;font-family:'Liberation Sans', sans-serif;color:#fff;transform:scaleX(0.9446);-webkit-text-stroke:1.1px rgba(255,255,255,0.8)">ADH7</div>
<div class="t" id="t144" style="left:269.50px;top:675.60px;font-size:6.2px;line-height:6.2px;font-family:'Liberation Sans', sans-serif;color:#d0021f;transform:scaleX(0.9446);">ADH7</div>
<div class="t" id="t145" style="left:286.80px;top:675.60px;font-size:6.2px;line-height:6.2px;font-family:'Liberation Sans', sans-serif;color:#fff;transform:scaleX(1.0124);-webkit-text-stroke:1.1px rgba(255,255,255,0.8)">ALDH2</div>
<div class="t" id="t146" style="left:286.80px;top:675.60px;font-size:6.2px;line-height:6.2px;font-family:'Liberation Sans', sans-serif;color:#d0021f;transform:scaleX(1.0124);">ALDH2</div>
<div class="t" id="t147" style="left:311.90px;top:675.60px;font-size:6.2px;line-height:6.2px;font-family:'Liberation Sans', sans-serif;color:#fff;transform:scaleX(0.9740);-webkit-text-stroke:1.1px rgba(255,255,255,0.8)">ALDH1A1</div>
<div class="t" id="t148" style="left:311.90px;top:675.60px;font-size:6.2px;line-height:6.2px;font-family:'Liberation Sans', sans-serif;color:#d0021f;transform:scaleX(0.9740);">ALDH1A1</div>
<div class="t" id="t149" style="left:341.80px;top:676.50px;font-size:6.2px;line-height:6.2px;font-family:'Liberation Sans', sans-serif;color:#fff;transform:scaleX(0.9606);-webkit-text-stroke:1.1px rgba(255,255,255,0.8)">CYP2E1</div>
<div class="t" id="t150" style="left:341.80px;top:676.50px;font-size:6.2px;line-height:6.2px;font-family:'Liberation Sans', sans-serif;color:#d0021f;transform:scaleX(0.9606);">CYP2E1</div>
<div class="t" id="t151" style="left:360.83px;top:670.70px;font-size:6px;line-height:6px;font-family:'Liberation Sans', sans-serif;color:#2a3a6a;font-weight:bold;">*</div>
<div class="t" id="t152" style="left:370.50px;top:676.50px;font-size:6.2px;line-height:6.2px;font-family:'Liberation Sans', sans-serif;color:#fff;transform:scaleX(0.9932);-webkit-text-stroke:1.1px rgba(255,255,255,0.8)">ADH1B</div>
<div class="t" id="t153" style="left:370.50px;top:676.50px;font-size:6.2px;line-height:6.2px;font-family:'Liberation Sans', sans-serif;color:#d0021f;transform:scaleX(0.9932);">ADH1B</div>
<div class="t" id="t154" style="left:396.30px;top:676.50px;font-size:6.2px;line-height:6.2px;font-family:'Liberation Sans', sans-serif;color:#fff;transform:scaleX(0.9694);-webkit-text-stroke:1.1px rgba(255,255,255,0.8)">CYP4A11</div>
<div class="t" id="t155" style="left:396.30px;top:676.50px;font-size:6.2px;line-height:6.2px;font-family:'Liberation Sans', sans-serif;color:#d0021f;transform:scaleX(0.9694);">CYP4A11</div>
<div class="t" id="t156" style="left:457.30px;top:509.30px;font-size:6.6px;line-height:6.6px;font-family:'Liberation Serif', serif;color:#3a7a3a;transform:scaleX(1.3043);">Significance</div>
<div class="t" id="t157" style="left:460.75px;top:517.20px;font-size:6.6px;line-height:6.6px;font-family:'Liberation Serif', serif;color:#222;">*</div>
<div class="t" id="t158" style="left:473.80px;top:517.30px;font-size:6.4px;line-height:6.4px;font-family:'Liberation Serif', serif;color:#222;transform:scaleX(1.1658);">p &lt; 0.05</div>
<div class="t" id="t159" style="left:459.10px;top:525.80px;font-size:6.6px;line-height:6.6px;font-family:'Liberation Serif', serif;color:#222;">**</div>
<div class="t" id="t160" style="left:473.80px;top:525.90px;font-size:6.4px;line-height:6.4px;font-family:'Liberation Serif', serif;color:#222;transform:scaleX(1.1516);">p &lt; 0.01</div>
<div class="t" id="t161" style="left:457.45px;top:534.10px;font-size:6.6px;line-height:6.6px;font-family:'Liberation Serif', serif;color:#222;">***</div>
<div class="t" id="t162" style="left:473.80px;top:534.20px;font-size:6.4px;line-height:6.4px;font-family:'Liberation Serif', serif;color:#222;transform:scaleX(1.1651);">p &lt; 0.001</div>
<div style="position:absolute;left:20.6px;top:630px;transform:translate(-50%,-50%) rotate(-90deg);font:italic 6.2px 'Liberation Sans', sans-serif;color:#333;white-space:nowrap;line-height:6.2px">log2 Fold Change</div>
</div>
</body></html>
